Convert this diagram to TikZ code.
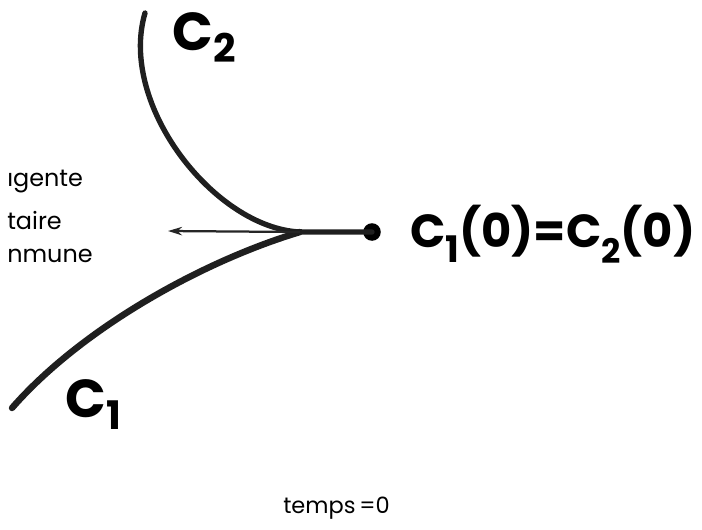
\documentclass[tikz,border=0pt]{standalone}
\usepackage{fontspec}
\setmainfont{Poppins}
\usetikzlibrary{arrows.meta}
% lowered subscript for the hand-lettered labels: size, drop, text
\newcommand{\lowsub}[3]{\raisebox{-#2}{\fontsize{#1}{#1}\selectfont #3}}

\begin{document}
\begin{tikzpicture}[
  x=0.025cm,y=-0.025cm,
  curve/.style={line width=3.8pt,line cap=round,draw=black!88},
  hand/.style={font=\fontsize{38}{40}\selectfont\bfseries,inner sep=0pt,anchor=base west},
  note/.style={font=\fontsize{17}{20}\selectfont,inner sep=0pt,anchor=base west},
  ar/.style={-{Stealth[length=10pt,width=6pt]},line width=1.6pt,draw=black!85},
]
\useasboundingbox (0,0) rectangle (702,529);
% the two curves run into one common point
\coordinate (top2) at (145,13);
\coordinate (low1) at (12,408);
\coordinate (join) at (300,232);
\coordinate (tip) at (168,231);
\node[circle,fill=black,inner sep=0pt,minimum size=12.5pt] (pt) at (372,232) {};
\draw[curve] (top2) .. controls (118,105) and (215,228) .. (join) -- (pt.center);
\draw[curve,line width=4.6pt] (low1) .. controls (80,330) and (200,262) .. (join);
\draw[ar] (join) -- (tip);
% labels
\node[hand] (lab2) at (172,50) {C\lowsub{28pt}{9pt}{2}};
\node[hand] (lab1) at (65,417) {C\lowsub{28pt}{9pt}{1}};
\node[hand,font=\fontsize{33}{36}\selectfont\bfseries] (labpt) at (410,247)
  {C\lowsub{26pt}{11pt}{1}(0)=C\lowsub{24pt}{12pt}{2}(0)};
\node[note] (t1) at (7,186) {ıgente};
\node[note] (t2) at (7,229) {taire};
\node[note] (t3) at (7,262) {nmune};
\node[note,font=\fontsize{16}{18}\selectfont] (time) at (283,513) {temps{\,}=0};
\end{tikzpicture}
\end{document}
